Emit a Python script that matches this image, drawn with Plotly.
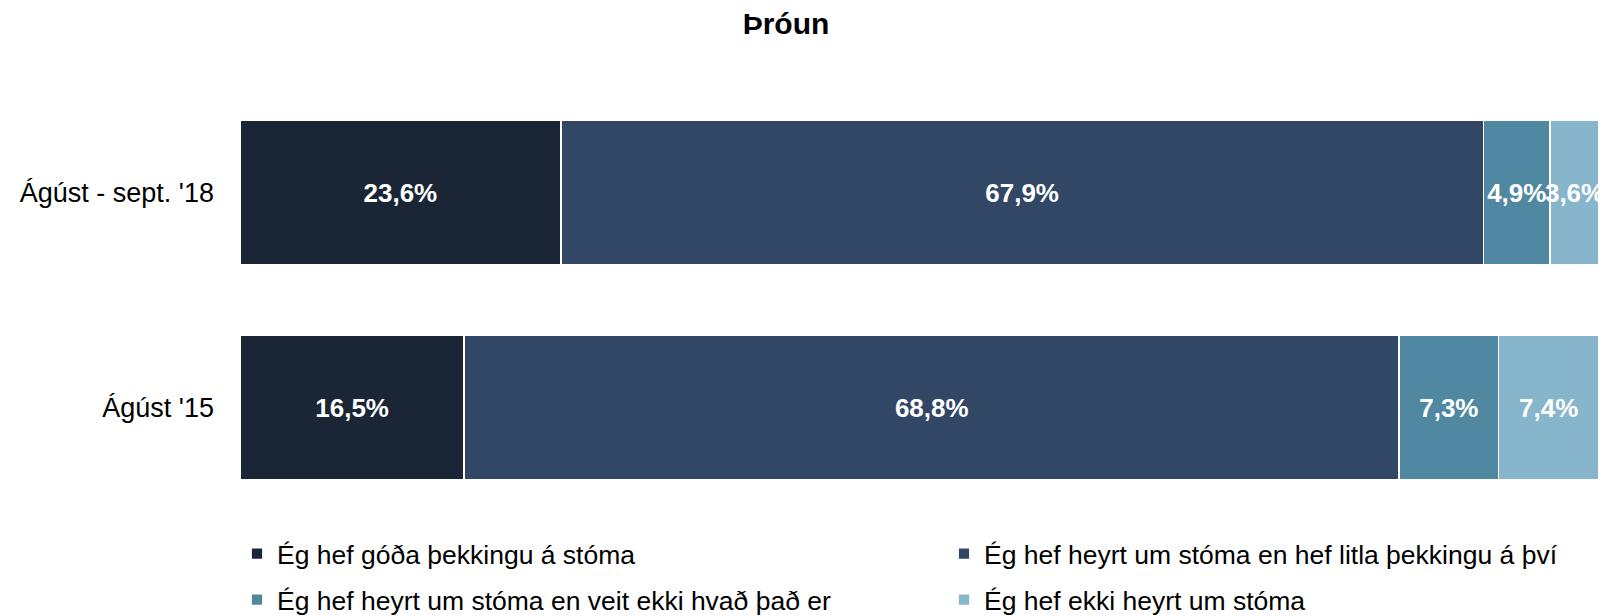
"""Stacked horizontal bar chart: Þróun."""

import plotly.graph_objects as go

periods = ["Ágúst '15", "Ágúst - sept. '18"]
answers = [
    "Ég hef góða þekkingu á stóma",
    "Ég hef heyrt um stóma en hef litla þekkingu á því",
    "Ég hef heyrt um stóma en veit ekki hvað það er",
    "Ég hef ekki heyrt um stóma",
]
good_knowledge = [16.5, 23.6]
little_knowledge = [68.8, 67.9]
dont_know_what = [7.3, 4.9]
never_heard = [7.4, 3.6]

colors = ["#1A2636", "#324766", "#5088A1", "#87B5CB"]
series = [good_knowledge, little_knowledge, dont_know_what, never_heard]

# legend slots: (legend id, x px, y px) in figure pixels
legend_slots = [
    ("legend", 229, 546),
    ("legend2", 936, 546),
    ("legend3", 229, 592),
    ("legend4", 936, 592),
]

W, H = 1615, 616
fig = go.Figure()
for name, vals, color, slot in zip(answers, series, colors, legend_slots):
    fig.add_trace(
        go.Bar(
            y=periods,
            x=vals,
            name=name,
            orientation="h",
            marker=dict(color=color, line=dict(color="#FFFFFF", width=1.8)),
            text=[f"{v:.1f}".replace(".", ",") + "%" for v in vals],
            textposition="inside",
            insidetextanchor="middle",
            constraintext="none",
            textangle=0,
            textfont=dict(color="#FFFFFF", size=26, family="Liberation Sans"),
            texttemplate="<b>%{text}</b>",
            legend=slot[0],
        )
    )

legend_style = dict(
    orientation="h",
    bgcolor="rgba(0,0,0,0)",
    font=dict(size=26.5, color="#000000", family="Liberation Sans"),
    xanchor="left",
    yanchor="middle",
    itemwidth=30,
    xref="container",
    yref="container",
)
legends = {}
for lid, px, py in legend_slots:
    legends[lid] = dict(legend_style, x=px / W, y=1 - py / H)

fig.update_layout(
    width=W,
    height=H,
    barmode="stack",
    bargap=0.33,
    showlegend=True,
    title=dict(
        text="<b>Þróun</b>",
        x=778 / W,
        xanchor="center",
        y=1 - 15 / H,
        yanchor="middle",
        font=dict(size=30, color="#000000", family="Liberation Sans"),
    ),
    paper_bgcolor="#FFFFFF",
    plot_bgcolor="#FFFFFF",
    font=dict(family="Liberation Sans", color="#000000"),
    margin=dict(l=224, r=24, t=77, b=109),
    **legends,
)
fig.update_xaxes(range=[0, 100], visible=False, showgrid=False, zeroline=False)
fig.update_yaxes(
    showgrid=False,
    zeroline=False,
    showline=False,
    ticks="",
    ticklabelstandoff=25,
    tickfont=dict(size=27, color="#000000", family="Liberation Sans"),
)

fig.write_html("out.html")
